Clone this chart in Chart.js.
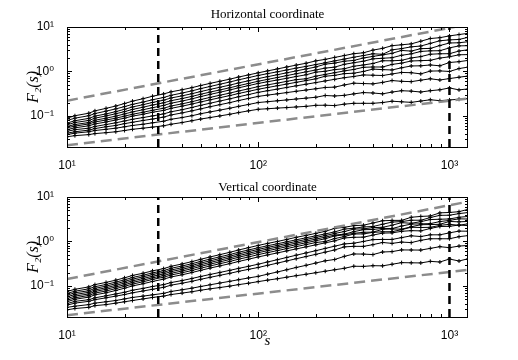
<!DOCTYPE html>
<html>
<head>
<meta charset="utf-8">
<script src="https://cdn.jsdelivr.net/npm/chart.js@4"></script>
<style>
  html, body { margin: 0; padding: 0; background: #fff; }
  .panel { position: absolute; left: 0; width: 518px; height: 180px; }
  #top { top: 0; }
  #bottom { top: 180px; }
</style>
</head>
<body>
<div class="panel" id="top"><canvas id="horizChart"></canvas></div>
<div class="panel" id="bottom"><canvas id="vertChart"></canvas></div>
<script>
// window sizes s (log spaced)
const sValues = [10, 11, 13, 14, 16, 18, 20, 22, 25, 28, 32, 35, 40, 45, 50, 56, 63, 71, 79, 89,
  100, 112, 126, 141, 158, 178, 200, 224, 251, 282, 316, 355, 398, 447, 501, 562, 631, 708, 794, 891,
  1000, 1122, 1259];

const xTicks = [10, 20, 30, 40, 50, 60, 70, 80, 90, 100, 200, 300, 400, 500, 600, 700, 800, 900, 1000];
const xMajor = [10, 100, 1000];
const xLabels = ['10¹', '10²', '10³'];
const yTicks = [0.02, 0.03, 0.04, 0.05, 0.06, 0.07, 0.08, 0.09, 0.1, 0.2, 0.3, 0.4, 0.5, 0.6, 0.7, 0.8, 0.9,
  1, 2, 3, 4, 5, 6, 7, 8, 9, 10];
const yMajor = [0.1, 1, 10];
const yLabels = ['10⁻¹', '10⁰', '10¹'];
const sMin = 10, sMax = 1250, fMin = 0.02, fMax = 10;

// vertical dashed markers and grey dashed bounds
const markerS = [30, 1000];
const boundS = [10, 1259];
const horizUpper = [0.22, 11.5];
const horizLower = [0.022, 0.247];
const vertUpper = [0.143, 7.9];
const vertLower = [0.022, 0.23];

// F2(s), horizontal coordinate
const horiz1 = [0.089, 0.101, 0.115, 0.130, 0.148, 0.167, 0.190, 0.215, 0.244, 0.277, 0.312, 0.348, 0.388, 0.432, 0.483, 0.540, 0.601, 0.671, 0.750, 0.836, 0.933, 1.03, 1.14, 1.26, 1.39, 1.53, 1.73, 1.87, 2.07, 2.28, 2.51, 2.63, 3.02, 3.31, 3.80, 3.98, 4.17, 4.79, 5.50, 5.75, 6.31, 6.76, 7.24];
const horiz2 = [0.079, 0.089, 0.101, 0.113, 0.128, 0.144, 0.162, 0.182, 0.205, 0.231, 0.260, 0.291, 0.327, 0.366, 0.411, 0.460, 0.516, 0.579, 0.649, 0.727, 0.813, 0.894, 0.982, 1.08, 1.19, 1.30, 1.43, 1.57, 1.73, 1.90, 2.09, 2.28, 2.50, 2.43, 3.06, 3.27, 3.58, 3.73, 4.28, 4.90, 5.13, 5.25, 5.89];
const horiz3 = [0.069, 0.078, 0.088, 0.099, 0.111, 0.125, 0.141, 0.159, 0.179, 0.201, 0.226, 0.253, 0.283, 0.316, 0.353, 0.395, 0.441, 0.493, 0.552, 0.617, 0.692, 0.764, 0.845, 0.933, 1.03, 1.14, 1.26, 1.46, 1.54, 1.70, 1.77, 2.01, 2.18, 2.36, 2.56, 2.97, 2.87, 3.26, 3.30, 3.83, 4.37, 4.42, 4.68];
const horiz4 = [0.063, 0.071, 0.079, 0.089, 0.100, 0.112, 0.125, 0.140, 0.157, 0.176, 0.197, 0.220, 0.246, 0.275, 0.307, 0.344, 0.384, 0.430, 0.480, 0.537, 0.603, 0.664, 0.732, 0.807, 0.889, 0.980, 1.08, 1.19, 1.25, 1.45, 1.57, 1.70, 1.92, 1.98, 2.04, 2.31, 2.49, 2.82, 2.91, 2.93, 3.39, 3.76, 3.80];
const horiz5 = [0.058, 0.064, 0.071, 0.080, 0.089, 0.099, 0.111, 0.123, 0.138, 0.153, 0.172, 0.193, 0.216, 0.242, 0.272, 0.305, 0.341, 0.383, 0.429, 0.481, 0.537, 0.588, 0.643, 0.703, 0.770, 0.842, 0.965, 1.01, 1.10, 1.15, 1.31, 1.40, 1.51, 1.74, 1.74, 1.78, 2.01, 2.16, 2.44, 2.50, 2.51, 2.88, 3.09];
const horiz6 = [0.054, 0.059, 0.066, 0.073, 0.081, 0.089, 0.099, 0.109, 0.121, 0.134, 0.149, 0.167, 0.187, 0.209, 0.233, 0.261, 0.292, 0.326, 0.364, 0.407, 0.457, 0.500, 0.547, 0.599, 0.655, 0.685, 0.784, 0.858, 0.938, 1.03, 1.11, 1.24, 1.26, 1.26, 1.44, 1.54, 1.72, 1.75, 1.78, 2.00, 2.14, 2.37, 2.40];
const horiz7 = [0.049, 0.054, 0.060, 0.066, 0.073, 0.081, 0.089, 0.099, 0.109, 0.121, 0.133, 0.148, 0.166, 0.185, 0.206, 0.230, 0.257, 0.287, 0.320, 0.357, 0.398, 0.436, 0.477, 0.521, 0.570, 0.624, 0.682, 0.782, 0.817, 0.894, 0.913, 1.00, 1.13, 1.10, 1.08, 1.21, 1.33, 1.34, 1.40, 1.34, 1.59, 1.66, 1.78];
const horiz8 = [0.045, 0.049, 0.053, 0.058, 0.064, 0.070, 0.077, 0.084, 0.092, 0.100, 0.111, 0.124, 0.138, 0.155, 0.173, 0.193, 0.216, 0.242, 0.270, 0.302, 0.339, 0.369, 0.401, 0.437, 0.475, 0.517, 0.562, 0.612, 0.666, 0.724, 0.771, 0.835, 0.823, 0.811, 0.878, 0.950, 0.937, 0.883, 1.02, 1.03, 1.00, 1.16, 1.26];
const horiz9 = [0.041, 0.044, 0.048, 0.052, 0.057, 0.061, 0.067, 0.072, 0.079, 0.085, 0.094, 0.105, 0.117, 0.130, 0.144, 0.161, 0.179, 0.199, 0.222, 0.247, 0.275, 0.294, 0.314, 0.335, 0.358, 0.382, 0.408, 0.436, 0.444, 0.497, 0.545, 0.535, 0.526, 0.567, 0.625, 0.600, 0.590, 0.636, 0.685, 0.643, 0.692, 0.741, 0.794];
const horiz10 = [0.038, 0.041, 0.044, 0.047, 0.050, 0.053, 0.057, 0.061, 0.065, 0.070, 0.076, 0.084, 0.092, 0.101, 0.112, 0.123, 0.135, 0.149, 0.164, 0.181, 0.200, 0.209, 0.219, 0.229, 0.240, 0.251, 0.263, 0.288, 0.281, 0.290, 0.313, 0.335, 0.328, 0.314, 0.344, 0.369, 0.361, 0.345, 0.369, 0.387, 0.426, 0.385, 0.407];
const horiz11 = [0.034, 0.036, 0.038, 0.040, 0.042, 0.044, 0.047, 0.050, 0.053, 0.056, 0.060, 0.065, 0.071, 0.078, 0.085, 0.092, 0.100, 0.109, 0.119, 0.130, 0.141, 0.145, 0.150, 0.154, 0.159, 0.164, 0.173, 0.174, 0.171, 0.184, 0.192, 0.192, 0.192, 0.200, 0.214, 0.208, 0.202, 0.216, 0.231, 0.220, 0.229, 0.237, 0.245];

// F2(s), vertical coordinate
const vert1 = [0.075, 0.084, 0.095, 0.107, 0.120, 0.135, 0.152, 0.172, 0.193, 0.218, 0.245, 0.276, 0.312, 0.352, 0.397, 0.448, 0.505, 0.570, 0.643, 0.725, 0.815, 0.904, 1.00, 1.11, 1.24, 1.37, 1.52, 1.69, 1.97, 2.08, 2.27, 2.32, 2.60, 2.92, 2.98, 2.98, 3.50, 3.66, 3.74, 4.40, 4.49, 4.67, 5.32];
const vert2 = [0.068, 0.076, 0.086, 0.096, 0.108, 0.122, 0.137, 0.155, 0.174, 0.196, 0.221, 0.249, 0.281, 0.316, 0.356, 0.401, 0.451, 0.508, 0.572, 0.644, 0.723, 0.801, 0.888, 0.983, 1.09, 1.21, 1.34, 1.48, 1.64, 1.90, 1.98, 2.12, 2.17, 2.44, 2.73, 2.80, 3.00, 3.00, 3.45, 3.87, 3.89, 4.23, 4.49];
const vert3 = [0.062, 0.070, 0.078, 0.088, 0.099, 0.112, 0.126, 0.142, 0.160, 0.180, 0.203, 0.228, 0.257, 0.289, 0.326, 0.367, 0.413, 0.465, 0.524, 0.590, 0.664, 0.735, 0.815, 0.903, 1.00, 1.11, 1.23, 1.36, 1.51, 1.67, 1.90, 1.92, 2.05, 2.08, 2.32, 2.65, 2.56, 2.79, 3.11, 3.16, 3.21, 3.50, 3.66];
const vert4 = [0.057, 0.064, 0.072, 0.081, 0.091, 0.103, 0.116, 0.130, 0.147, 0.165, 0.186, 0.210, 0.236, 0.266, 0.299, 0.337, 0.380, 0.427, 0.481, 0.542, 0.610, 0.676, 0.749, 0.830, 0.920, 1.02, 1.13, 1.25, 1.39, 1.46, 1.66, 1.84, 1.86, 1.97, 1.95, 2.22, 2.46, 2.49, 2.52, 2.80, 2.98, 3.23, 3.19];
const vert5 = [0.052, 0.059, 0.066, 0.075, 0.084, 0.095, 0.106, 0.120, 0.135, 0.152, 0.171, 0.192, 0.217, 0.244, 0.275, 0.309, 0.348, 0.392, 0.442, 0.497, 0.560, 0.620, 0.687, 0.762, 0.844, 0.935, 1.04, 1.15, 1.33, 1.41, 1.52, 1.61, 1.62, 1.88, 1.91, 1.89, 2.14, 2.38, 2.40, 2.43, 2.82, 2.76, 2.83];
const vert6 = [0.048, 0.054, 0.061, 0.069, 0.077, 0.087, 0.098, 0.110, 0.124, 0.140, 0.157, 0.176, 0.198, 0.222, 0.250, 0.281, 0.316, 0.355, 0.399, 0.448, 0.506, 0.561, 0.623, 0.691, 0.767, 0.851, 0.945, 1.00, 1.16, 1.29, 1.47, 1.48, 1.60, 1.65, 1.66, 1.84, 2.09, 2.06, 2.08, 2.30, 2.43, 2.31, 2.51];
const vert7 = [0.044, 0.050, 0.056, 0.063, 0.070, 0.079, 0.089, 0.100, 0.112, 0.126, 0.142, 0.159, 0.178, 0.200, 0.224, 0.252, 0.282, 0.317, 0.355, 0.399, 0.449, 0.498, 0.553, 0.613, 0.681, 0.756, 0.839, 0.931, 1.03, 1.20, 1.24, 1.25, 1.39, 1.54, 1.56, 1.69, 1.75, 1.73, 1.96, 2.17, 2.19, 2.34, 2.27];
const vert8 = [0.040, 0.045, 0.049, 0.054, 0.060, 0.066, 0.072, 0.080, 0.088, 0.097, 0.107, 0.119, 0.132, 0.147, 0.163, 0.181, 0.201, 0.224, 0.248, 0.276, 0.308, 0.346, 0.389, 0.437, 0.491, 0.552, 0.620, 0.697, 0.783, 0.880, 0.913, 1.00, 1.10, 1.11, 1.11, 1.22, 1.34, 1.29, 1.41, 1.41, 1.56, 1.71, 1.70];
const vert9 = [0.037, 0.041, 0.045, 0.049, 0.054, 0.059, 0.064, 0.070, 0.077, 0.084, 0.093, 0.104, 0.115, 0.127, 0.141, 0.156, 0.173, 0.192, 0.213, 0.236, 0.260, 0.291, 0.326, 0.365, 0.409, 0.458, 0.513, 0.575, 0.644, 0.755, 0.777, 0.775, 0.848, 0.949, 0.905, 0.968, 0.943, 1.06, 1.15, 1.15, 1.15, 1.28, 1.36];
const vert10 = [0.033, 0.035, 0.038, 0.041, 0.044, 0.047, 0.051, 0.055, 0.059, 0.063, 0.068, 0.075, 0.082, 0.089, 0.097, 0.106, 0.116, 0.127, 0.138, 0.151, 0.164, 0.184, 0.206, 0.231, 0.260, 0.291, 0.327, 0.367, 0.393, 0.462, 0.523, 0.520, 0.507, 0.579, 0.591, 0.645, 0.643, 0.640, 0.699, 0.763, 0.726, 0.787, 0.815];
const vert11 = [0.029, 0.031, 0.033, 0.036, 0.038, 0.041, 0.044, 0.047, 0.051, 0.055, 0.059, 0.064, 0.069, 0.074, 0.080, 0.086, 0.092, 0.099, 0.107, 0.115, 0.125, 0.135, 0.145, 0.157, 0.170, 0.183, 0.198, 0.214, 0.231, 0.249, 0.277, 0.275, 0.285, 0.283, 0.307, 0.334, 0.331, 0.329, 0.357, 0.345, 0.403, 0.363, 0.412];

const serif = "'Liberation Serif', 'DejaVu Serif', serif";
Chart.defaults.font.family = "'Liberation Sans', 'DejaVu Sans', sans-serif";
Chart.defaults.color = '#000';

// box round the plot with inward ticks on all four sides
const frame = {
  id: 'frame',
  afterDraw(chart) {
    const { ctx, chartArea: a } = chart;
    const x = chart.scales.x, y = chart.scales.y;
    ctx.save();
    ctx.strokeStyle = '#000';
    ctx.lineWidth = 1;
    ctx.beginPath();
    xTicks.forEach(v => {
      const p = Math.round(x.getPixelForValue(v)) + 0.5;
      const len = xMajor.includes(v) ? 5 : 3;
      ctx.moveTo(p, a.bottom); ctx.lineTo(p, a.bottom - len);
      ctx.moveTo(p, a.top); ctx.lineTo(p, a.top + len);
    });
    yTicks.forEach(v => {
      const p = Math.round(y.getPixelForValue(v)) + 0.5;
      const len = yMajor.includes(v) ? 5 : 3;
      ctx.moveTo(a.left, p); ctx.lineTo(a.left + len, p);
      ctx.moveTo(a.right, p); ctx.lineTo(a.right - len, p);
    });
    ctx.stroke();
    ctx.strokeRect(Math.round(a.left) + 0.5, Math.round(a.top) + 0.5,
      Math.round(a.right - a.left) - 1, Math.round(a.bottom - a.top));
    ctx.restore();
  }
};

function makePanel(id, title, series, upper, lower, isBottom) {
  const datasets = [];
  markerS.forEach(m => datasets.push({
    data: [{ x: m, y: fMin }, { x: m, y: fMax }],
    borderColor: '#000', borderWidth: 2.5, borderDash: [8, 5], pointRadius: 0
  }));
  [upper, lower].forEach(b => datasets.push({
    data: boundS.map((s, i) => ({ x: s, y: b[i] })),
    borderColor: '#8c8c8c', borderWidth: 2.5, borderDash: [11, 6], pointRadius: 0
  }));
  series.forEach(f => datasets.push({
    data: sValues.map((s, i) => ({ x: s, y: f[i] })),
    borderColor: '#000', borderWidth: 1,
    pointStyle: 'cross', pointRadius: 2, pointBorderWidth: 1,
    pointBorderColor: '#000', pointBackgroundColor: '#000'
  }));

  return new Chart(document.getElementById(id), {
    type: 'line',
    data: { datasets },
    plugins: [frame],
    options: {
      responsive: true,
      maintainAspectRatio: false,
      animation: false,
      devicePixelRatio: 1,
      layout: { padding: { left: 0, right: 50, top: 0, bottom: 0 } },
      datasets: { line: { fill: false, tension: 0, clip: 0 } },
      plugins: {
        legend: { display: false },
        tooltip: { enabled: false },
        title: {
          display: true, text: title, fullSize: false, color: '#000',
          font: { family: serif, size: 13, weight: 'normal' },
          padding: isBottom ? { top: 0, bottom: 1.4 } : { top: 7, bottom: 4.4 }
        }
      },
      scales: {
        x: {
          type: 'logarithmic', min: sMin, max: sMax,
          afterBuildTicks: s => { s.ticks = xTicks.map(v => ({ value: v })); },
          afterFit: s => { s.height = isBottom ? 43 : 33; },
          grid: { display: false }, border: { display: false },
          ticks: {
            autoSkip: false, maxRotation: 0, padding: 3, font: { size: 12 },
            callback: v => { const k = xMajor.indexOf(v); return k < 0 ? '' : xLabels[k]; }
          },
          title: {
            display: isBottom, text: 's',
            font: { family: serif, style: 'italic', size: 15 },
            padding: { top: 0, bottom: 10 }
          }
        },
        y: {
          type: 'logarithmic', min: fMin, max: fMax,
          afterBuildTicks: s => { s.ticks = yTicks.map(v => ({ value: v })); },
          afterFit: s => { s.width = 67; },
          grid: { display: false }, border: { display: false },
          ticks: {
            autoSkip: false, padding: 5, font: { size: 12 },
            callback: v => { const k = yMajor.indexOf(v); return k < 0 ? '' : yLabels[k]; }
          },
          title: {
            display: true, text: 'F₂(s)',
            font: { family: serif, style: 'italic', size: 16 },
            padding: { top: 24, bottom: 0 }
          }
        }
      }
    }
  });
}

makePanel('horizChart', 'Horizontal coordinate',
  [horiz1, horiz2, horiz3, horiz4, horiz5, horiz6, horiz7, horiz8, horiz9, horiz10, horiz11],
  horizUpper, horizLower, false);
makePanel('vertChart', 'Vertical coordinate',
  [vert1, vert2, vert3, vert4, vert5, vert6, vert7, vert8, vert9, vert10, vert11],
  vertUpper, vertLower, true);
</script>
</body>
</html>
